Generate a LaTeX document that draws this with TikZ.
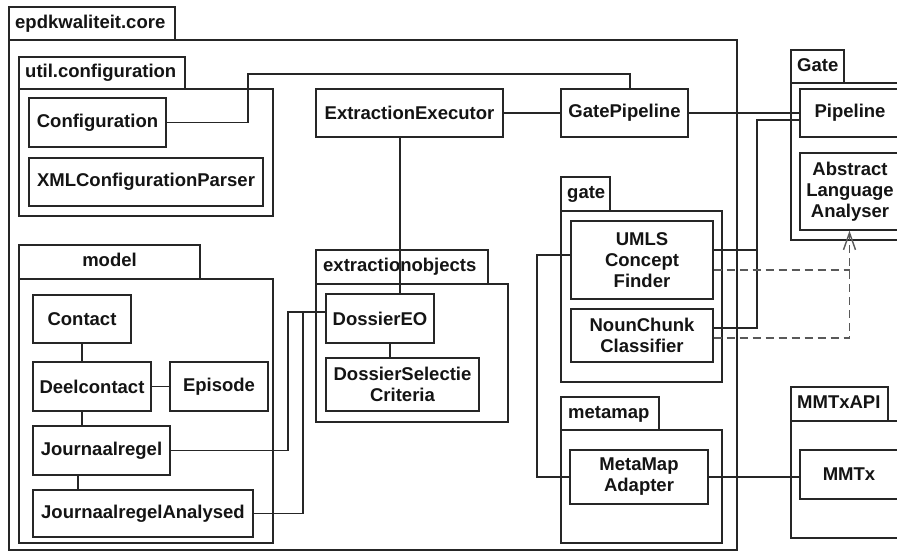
\documentclass[tikz,border=0pt]{standalone}
\usepackage{fontspec}
\setmainfont{Liberation Sans}
\usetikzlibrary{arrows.meta}
\newcommand\cbox[6]{\node[cls, minimum width={(#4)-(#2)}, minimum height={(#5)-(#3)}] (#1) at ({((#2)+(#4))/2},{((#3)+(#5))/2}) {#6};}
\newcommand\pkgdraw[6]{\draw[pkgline] (#1,#2) rectangle (#3,#4); \draw[pkgline] (#1,#4) rectangle (#5,#6);}
\begin{document}
\begin{tikzpicture}[x=1pt,y=-1pt,
  every node/.style={font=\fontsize{18.5}{21}\selectfont\bfseries, text=black!92},
  cls/.style={draw=black!85, line width=1.4pt, rectangle, inner sep=0pt, align=center, fill=white},
  pkgline/.style={draw=black!85, line width=1.4pt},
  tablabel/.style={anchor=west, inner sep=0pt, text height=13pt, text depth=4pt},
  conn/.style={draw=black!85, line width=1.3pt},
  dep/.style={draw=black!65, line width=1.5pt, dash pattern=on 8pt off 5pt}]
\useasboundingbox (0,0) rectangle (897,552);
\clip (0,0) rectangle (897,552);
\fill[white] (0,0) rectangle (897,552);
% packages
\pkgdraw{9}{7}{175}{40}{737}{550}
\node[tablabel] (lcore) at (15,23.5) {epdkwaliteit.core};
\pkgdraw{19}{57}{185}{89}{273}{216}
\node[tablabel] (lutil) at (25,73) {util.configuration};
\pkgdraw{19}{245}{200}{279}{273}{543}
\node[tablabel, anchor=center] (lmodel) at (109.5,262) {model};
\pkgdraw{316}{250}{488}{284}{508}{422}
\node[tablabel] (lextr) at (323,267) {extractionobjects};
\pkgdraw{561}{177}{610}{211}{722}{382}
\node[tablabel] (lgate) at (567,194) {gate};
\pkgdraw{561}{397}{659}{430}{722}{543}
\node[tablabel] (lmeta) at (568,413.5) {metamap};
\pkgdraw{791}{50}{844}{83}{905}{240}
\node[tablabel] (lGate) at (797,66.5) {Gate};
\pkgdraw{791}{387}{888}{421}{905}{538}
\node[tablabel] (lmmtxapi) at (797,404) {MMTxAPI};
% classes
\cbox{Configuration}{29}{98}{166}{147}{Configuration}
\cbox{XMLParser}{29}{158}{263}{206}{XMLConfigurationParser}
\cbox{EE}{316}{89}{503}{137}{ExtractionExecutor}
\cbox{GatePipeline}{561}{89}{688}{137}{GatePipeline}
\cbox{Pipeline}{800}{89}{900}{137}{Pipeline}
\cbox{Abstract}{800}{153}{900}{230}{Abstract\\Language\\Analyser}
\cbox{UMLS}{571}{221}{713}{299}{UMLS\\Concept\\Finder}
\cbox{NounChunk}{571}{309}{713}{362}{NounChunk\\Classifier}
\cbox{MetaMap}{570}{450}{708}{504}{MetaMap\\Adapter}
\cbox{MMTx}{800}{450}{898}{499}{MMTx}
\cbox{Contact}{33}{295}{131}{343}{Contact}
\cbox{Deelcontact}{33}{362}{151}{411}{Deelcontact}
\cbox{Episode}{170}{362}{268}{411}{Episode}
\cbox{Journaalregel}{33}{426}{170}{475}{Journaalregel}
\cbox{JA}{33}{490}{253}{537}{JournaalregelAnalysed}
\cbox{DossierEO}{326}{294}{434}{343}{DossierEO}
\cbox{DSC}{326}{358}{479}{411}{DossierSelectie\\Criteria}
% helper coordinates
\coordinate (bx1) at (288,0);
\coordinate (bx2) at (303,0);
\coordinate (bx3) at (248,74);
\coordinate (bx4) at (757,0);
\coordinate (bx5) at (537,0);
\coordinate (d1) at ([yshift=6.5pt]DossierEO.west);
\coordinate (g1) at ([xshift=5.5pt]GatePipeline.north);
\coordinate (e1) at ([xshift=-9.5pt]EE.south);
\coordinate (p1) at ([yshift=-7pt]Pipeline.west);
\coordinate (u1) at ([yshift=10pt]UMLS.east);
\coordinate (u2) at ([yshift=-10pt]UMLS.east);
\coordinate (u3) at ([yshift=5pt]UMLS.west);
\coordinate (n1) at ([yshift=7.5pt]NounChunk.east);
\coordinate (n2) at ([yshift=-2.5pt]NounChunk.east);
\coordinate (de1) at ([xshift=10pt]DossierEO.south);
\coordinate (j1) at ([xshift=-23.5pt]Journaalregel.south);
\coordinate (ab) at ([xshift=-0.5pt]Abstract.south);
% connectors
\draw[conn] (Configuration.east) -| (bx3) -| (g1);
\draw[conn] (EE.east) -- (GatePipeline.west);
\draw[conn] (GatePipeline.east) -- (Pipeline.west);
\draw[conn] (e1) -- (e1 |- DossierEO.north);
\draw[conn] (de1) -- (de1 |- DSC.north);
\draw[conn] (p1) -| (bx4 |- n1) -- (n1);
\draw[conn] (u1) -- (u1 -| bx4);
\draw[conn] (u3) -| (bx5 |- MetaMap.west) -- (MetaMap.west);
\draw[conn] (MetaMap.east) -- (MetaMap.east -| MMTx.west);
\draw[conn] (Contact.south) -- (Contact.south |- Deelcontact.north);
\draw[conn] (Deelcontact.east) -- (Episode.west);
\draw[conn] (Deelcontact.south -| Contact.south) -- (Journaalregel.north -| Contact.south);
\draw[conn] (j1) -- (j1 |- JA.north);
\draw[conn] (Journaalregel.east) -| (bx1 |- d1) -- (d1);
\draw[conn] (JA.east) -| (bx2 |- d1) -- (d1);
\draw[dep] (u2) -- (u2 -| ab);
\draw[dep, -{Straight Barb[length=17pt, width=12pt, line width=1.4pt]}] (n2) -| (ab);
\end{tikzpicture}
\end{document}
